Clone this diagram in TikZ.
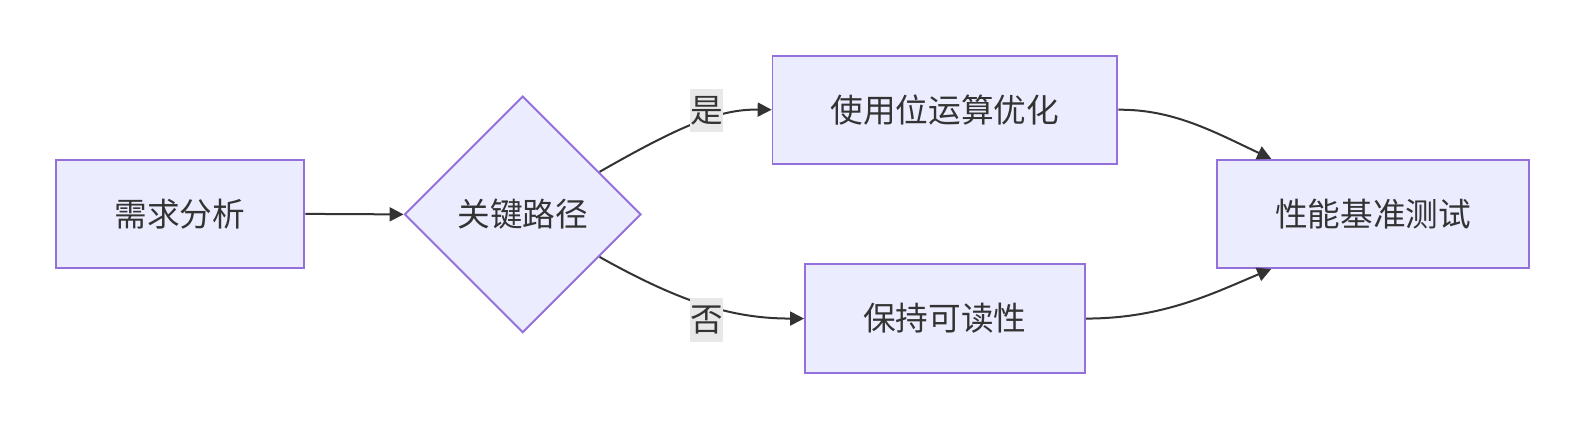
\documentclass[tikz,border=0pt]{standalone}
\usepackage{fontspec}
\setmainfont{Noto Sans CJK SC}
\usetikzlibrary{shapes.geometric,arrows.meta}
\definecolor{nodefill}{HTML}{ECECFF}
\definecolor{nodeline}{HTML}{9370DB}
\definecolor{edgecol}{HTML}{333333}
\definecolor{lblbg}{HTML}{E8E8E8}
\tikzset{
  box/.style={draw=nodeline, fill=nodefill, line width=1.9pt, inner sep=0pt,
    text=edgecol, font=\fontsize{32.3}{38}\selectfont, minimum height=107pt},
  dia/.style={draw=nodeline, fill=nodefill, line width=1.9pt, shape=diamond, inner sep=0pt,
    minimum width=234pt, minimum height=234pt, text=edgecol, font=\fontsize{32.3}{38}\selectfont},
  edge/.style={draw=edgecol, line width=2pt, -{Triangle[length=14pt,width=14pt]}},
  lbl/.style={fill=lblbg, text=edgecol, inner sep=0pt, minimum width=32pt, minimum height=43pt,
    font=\fontsize{32.3}{38}\selectfont}
}
\begin{document}
\begin{tikzpicture}[x=1pt,y=-1pt,scale=1.0111,transform shape]
\useasboundingbox (0,0) rectangle (1566.6,423.3);
\node[box, minimum width=246pt] (req) at (178,211.5) {需求分析};
\node[dia] (crit) at (517,212) {关键路径};
\node[box, minimum width=341pt] (bit) at (934.5,108.5) {使用位运算优化};
\node[box, minimum width=277pt] (keep) at (934.5,315) {保持可读性};
\node[box, minimum width=309pt] (bench) at (1358,211.5) {性能基准测试};

\draw[edge] (req.east) -- (crit.west);
\draw[edge] (crit.29) .. controls (680,120) and (715,108) .. (bit.west);
\draw[edge] (crit.-29) .. controls (680,303) and (730,315) .. (keep.west);
\draw[edge] (bit.east) .. controls (1160,108) and (1200,130) .. ([xshift=-101pt]bench.north);
\draw[edge] (keep.east) .. controls (1150,315) and (1200,290) .. ([xshift=-101pt]bench.south);

\node[lbl] (yes) at (699,109.5) {是};
\node[lbl] (no) at (699,316.5) {否};
\end{tikzpicture}
\end{document}
